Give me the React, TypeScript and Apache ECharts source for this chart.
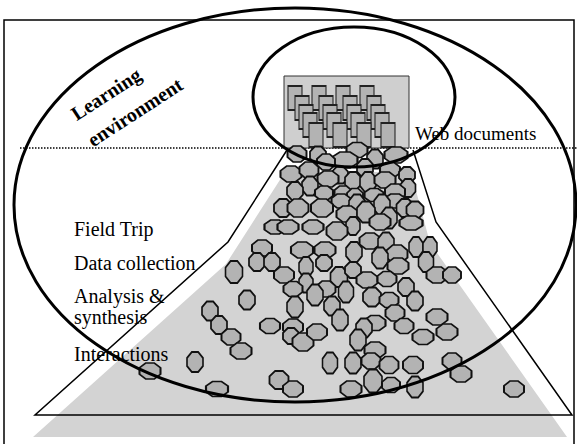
import React, { useEffect, useRef } from "react";
import * as echarts from "echarts";

// Octagon "items" (centre x, centre y, width, height)
const blobX = [297, 318, 357, 345, 375, 396, 291, 309, 326, 365, 390, 407, 340, 328, 310, 295, 353, 368, 385, 408, 395, 324, 343, 355, 374, 341, 395, 283, 298, 322, 357, 382, 405, 415, 347, 366, 389, 380, 411, 275, 288, 313, 353, 337,
  262, 302, 325, 370, 386, 354, 416, 430, 397, 380, 257, 272, 324, 306, 398, 426, 234, 284, 339, 353, 367, 387, 437, 452, 306, 406, 293, 326, 346, 315, 372, 389, 415, 247, 295, 332,
  210, 219, 231, 241, 195, 150, 217, 279, 293, 270, 293, 291, 303, 317, 340, 395, 375, 364, 358, 404, 437, 447, 423, 375, 330, 353, 371, 389, 413, 452, 461, 373, 391, 415, 351, 514];
const blobY = [154, 155, 150, 160, 159, 155, 174, 170, 162, 168, 170, 175, 175, 179, 186, 191, 181, 182, 180, 188, 192, 193, 193, 196, 195, 201, 201, 208, 208, 208, 205, 205, 208, 210, 214, 212, 218, 222, 223, 227, 227, 227, 226, 231,
  248, 250, 250, 241, 243, 252, 247, 247, 254, 258, 262, 262, 263, 267, 266, 262, 272, 275, 277, 270, 280, 279, 275, 275, 283, 287, 289, 289, 292, 295, 297, 300, 301, 300, 307, 306,
  311, 325, 337, 351, 362, 371, 389, 380, 389, 326, 327, 336, 342, 332, 320, 313, 323, 328, 340, 326, 317, 332, 337, 350, 363, 363, 361, 365, 365, 361, 374, 381, 385, 387, 389, 389];
const blobW = [18, 15, 20, 24, 15, 22, 20, 18, 17, 15, 19, 15, 15, 20, 15, 15, 15, 15, 20, 14, 19, 17, 16, 15, 18, 18, 20, 17, 20, 21, 15, 15, 16, 16, 20, 17, 15, 20, 22, 20, 20, 20, 13, 20,
  19, 21, 20, 20, 15, 15, 13, 13, 20, 15, 15, 15, 15, 13, 20, 14, 16, 19, 16, 15, 20, 18, 20, 17, 13, 15, 18, 18, 14, 15, 17, 18, 15, 15, 15, 15,
  15, 15, 18, 20, 15, 20, 21, 18, 19, 19, 19, 15, 20, 19, 15, 18, 20, 15, 15, 18, 20, 20, 20, 20, 14, 15, 18, 18, 19, 18, 20, 17, 17, 15, 20, 19];
const blobH = [15, 16, 14, 15, 18, 15, 15, 15, 15, 17, 14, 15, 16, 15, 18, 17, 17, 19, 15, 17, 15, 13, 13, 14, 12, 13, 13, 17, 17, 17, 20, 20, 17, 16, 15, 20, 20, 15, 13, 13, 13, 13, 17, 17,
  15, 15, 15, 15, 20, 19, 19, 19, 17, 20, 17, 17, 15, 19, 15, 19, 21, 15, 19, 15, 15, 14, 15, 15, 18, 17, 14, 15, 20, 20, 18, 14, 18, 18, 20, 18,
  18, 17, 15, 15, 19, 15, 14, 17, 15, 14, 15, 15, 17, 15, 20, 15, 14, 18, 20, 14, 15, 15, 14, 15, 20, 20, 15, 16, 16, 15, 15, 22, 14, 20, 15, 15];

// Web document icons: columns x staggered rows
const docColumnX = [295, 319, 343, 367];
const docRowShift = [0, 7, 11, 15, 21];
const docRowY = [98, 108, 117, 125, 135];

const activities = ["Field Trip", "Data collection", "Analysis &", "synthesis", "Interactions"];
const activityBaselines = [235, 269, 302, 323, 360];

const OCTAGON = "path://M30,0L70,0L100,30L100,70L70,100L30,100L0,70L0,30Z";
const SERIF = '"Liberation Serif", "Times New Roman", serif';

export default function App() {
  const ref = useRef<HTMLDivElement>(null);
  useEffect(() => {
    if (!ref.current) return;
    const chart = echarts.init(ref.current, null, { renderer: "svg" });

    const docData: any[] = [];
    docRowY.forEach((y, r) => {
      docColumnX.forEach((x) => {
        docData.push([x + docRowShift[r], y]);
      });
    });

    const blobData = blobX.map((x, i) => ({
      value: [x, blobY[i]],
      symbolSize: [blobW[i] + 1, blobH[i] + 1],
    }));

    const textEl = (text: string, x: number, y: number, size: number, extra: any = {}) => ({
      type: "text",
      z: 12,
      x,
      y,
      silent: true,
      rotation: extra.rotation || 0,
      style: {
        text,
        font: `${extra.bold ? "bold " : ""}${size}px ${SERIF}`,
        fill: "#000",
        textAlign: extra.align || "left",
        align: extra.align || "left",
        textVerticalAlign: "middle",
        verticalAlign: "middle",
      },
    });

    const option: any = {
      animation: false,
      grid: { left: 0, right: 0, top: 0, bottom: 0 },
      xAxis: { type: "value", min: 0, max: 577, show: false },
      yAxis: { type: "value", min: 0, max: 444, inverse: true, show: false },
      series: [
        {
          type: "scatter",
          z: 3,
          silent: true,
          symbol: "rect",
          symbolSize: [14, 24],
          data: docData,
          itemStyle: { color: "#b3b3b3", borderColor: "#222", borderWidth: 1.4, opacity: 1 },
        },
        {
          type: "scatter",
          z: 4,
          silent: true,
          symbol: OCTAGON,
          data: blobData,
          itemStyle: { color: "#b3b3b3", borderColor: "#111", borderWidth: 1.8, opacity: 1 },
        },
      ],
      graphic: {
        elements: [
          { type: "rect", z: 0, silent: true, shape: { x: 4, y: 20, width: 570, height: 440 }, style: { fill: "#fff", stroke: "#000", lineWidth: 1.5 } },
          { type: "polygon", z: 1, silent: true, shape: { points: [[285, 172], [226, 264], [33, 437], [567, 437], [430, 243], [411, 172]] }, style: { fill: "#d3d3d3" } },
          { type: "polyline", z: 1, silent: true, shape: { points: [[287, 150], [228, 242], [35, 415], [572, 415], [436, 222], [413, 150]] }, style: { fill: "none", stroke: "#000", lineWidth: 1.5 } },
          { type: "line", z: 1, silent: true, shape: { x1: 20, y1: 148, x2: 577, y2: 148 }, style: { stroke: "#000", lineWidth: 1.5, lineDash: [1.5, 1.5] } },
          { type: "rect", z: 2, silent: true, shape: { x: 284, y: 76, width: 125, height: 72 }, style: { fill: "#cfcfcf", stroke: "#333", lineWidth: 1 } },
          { type: "ellipse", z: 10, silent: true, shape: { cx: 295, cy: 205, rx: 281, ry: 197 }, style: { fill: "none", stroke: "#000", lineWidth: 3 } },
          { type: "ellipse", z: 10, silent: true, shape: { cx: 354, cy: 97, rx: 101, ry: 70 }, style: { fill: "none", stroke: "#000", lineWidth: 3 } },
          textEl("Learning", 106, 94, 20, { bold: true, align: "center", rotation: (33 * Math.PI) / 180 }),
          textEl("environment", 135, 112, 20, { bold: true, align: "center", rotation: (33 * Math.PI) / 180 }),
          textEl("Web documents", 415, 133, 19),
          ...activities.map((t, i) => textEl(t, 74, activityBaselines[i] - 6, 20)),
        ],
      },
    };
    chart.setOption(option);
    return () => chart.dispose();
  }, []);
  return <div ref={ref} style={{ position: "absolute", left: 0, top: 0, width: 577, height: 444 }} />;
}
